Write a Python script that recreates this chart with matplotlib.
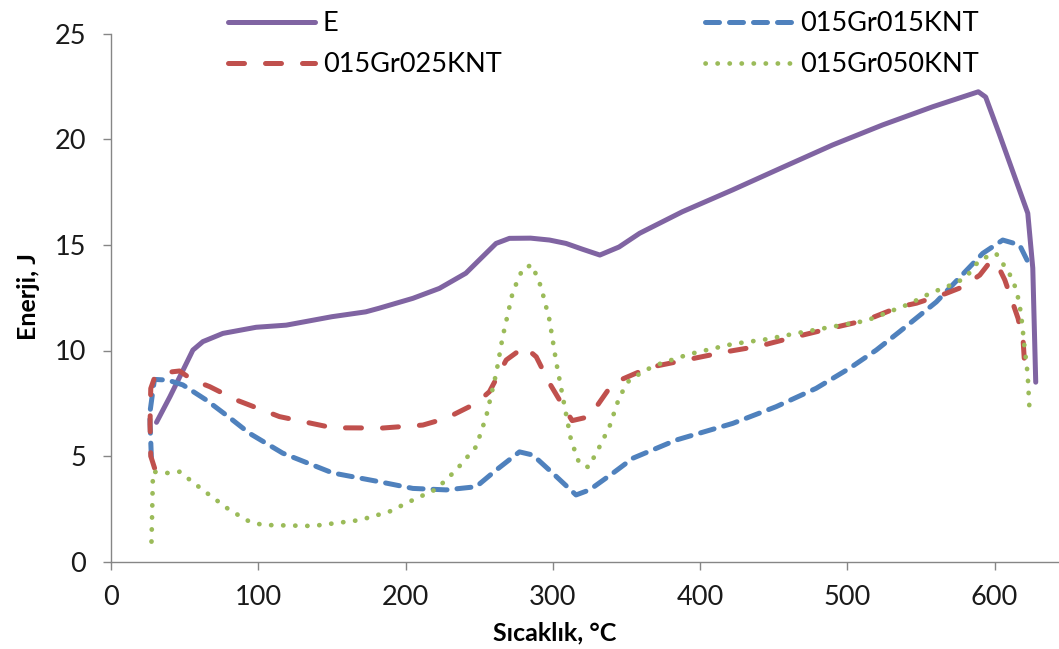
import matplotlib
matplotlib.use("Agg")
import matplotlib.pyplot as plt

plt.rcParams['font.family'] = ['Lato', 'DejaVu Sans']

# ---- data ----
e_x = [30.9, 40, 49, 55.6, 62.4, 76, 98.6, 119, 150, 173, 182, 205, 223, 241, 250, 261.5, 270.6, 285,
       297.8, 309, 320, 332, 345, 359, 388, 422, 456, 490, 524, 558, 589, 594, 603, 622.6, 626, 628]
e_y = [6.6, 7.81, 9.08, 10.02, 10.42, 10.81, 11.1, 11.2, 11.6, 11.83, 12.0, 12.47, 12.94, 13.66, 14.28,
       15.07, 15.31, 15.32, 15.23, 15.07, 14.8, 14.52, 14.9, 15.55, 16.57, 17.6, 18.67, 19.73, 20.68,
       21.54, 22.25, 22.0, 20.3, 16.5, 13.9, 8.5]

g15_x = [27.4, 26.3, 29.5, 38.6, 48.8, 64.6, 80, 94, 116.6, 150.6, 182, 205, 227.6, 248, 261.6, 277.4,
         286.5, 300, 315.8, 325, 340.8, 354.4, 383.8, 422.3, 451.7, 478.9, 501.6, 519.7, 535.5, 560.5,
         592, 605.6, 617, 624.8]
g15_y = [4.95, 7.0, 8.63, 8.6, 8.37, 7.66, 6.85, 6.08, 5.14, 4.2, 3.79, 3.47, 3.4, 3.55, 4.34, 5.2,
         5.05, 4.19, 3.16, 3.4, 4.19, 4.9, 5.76, 6.55, 7.34, 8.21, 9.16, 10.02, 10.89, 12.3,
         14.6, 15.23, 15.0, 13.9]

g25_x = [29.6, 27, 26.5, 27, 30, 36.3, 46.5, 55.6, 67, 85, 114.4, 150.6, 184.6, 211.8, 227.6, 248, 257,
         268.4, 280.8, 288.8, 297.8, 308, 313.2, 325, 340.8, 365.7, 388.3, 417.8, 440.5, 460.9, 485.7,
         512.9, 535.5, 547, 567, 578, 590, 596.5, 601, 607, 616, 619.5, 620.4]
g25_y = [4.43, 5.0, 6.5, 8.2, 8.8, 8.95, 9.03, 8.6, 8.29, 7.66, 6.87, 6.34, 6.33, 6.47, 6.79, 7.5, 8.05,
         9.55, 10.18, 9.7, 8.45, 7.26, 6.68, 6.87, 8.45, 9.2, 9.52, 9.94, 10.21, 10.58, 11.0,
         11.44, 12.07, 12.24, 12.7, 13.0, 13.57, 14.15, 14.2, 13.34, 11.52, 10.4, 9.4]

g50_x = [27.5, 28, 28.5, 38.5, 46.5, 62.3, 80.5, 94, 103, 137, 169, 189, 205, 220.8, 234.4, 248, 254.8,
         261.6, 266, 272.9, 279.7, 286, 292, 297.8, 302.3, 306.8, 312.4, 318, 324.3, 331.8, 338.5,
         345.3, 352, 363.5, 370.2, 392.8, 422.3, 444.9, 467.5, 490.2, 512.9, 528.8, 542, 556, 574,
         581, 590, 601, 610, 615, 618, 620.4, 622.5, 624]
g50_y = [0.95, 2.5, 4.26, 4.2, 4.26, 3.4, 2.45, 1.9, 1.74, 1.69, 1.97, 2.37, 2.92, 3.43, 4.34, 5.45, 6.87,
         8.92, 10.65, 12.78, 13.89, 14.05, 13.02, 11.44, 9.47, 7.81, 5.76, 4.66, 4.47, 5.45, 6.39,
         7.81, 8.6, 9.08, 9.31, 9.83, 10.31, 10.53, 10.84, 11.13, 11.41, 11.84, 12.2, 12.7, 13.2,
         13.5, 14.3, 14.6, 13.66, 12.86, 11.76, 10.16, 8.9, 6.9]

labels = ["E", "015Gr015KNT", "015Gr025KNT", "015Gr050KNT"]
x_ticks = [0, 100, 200, 300, 400, 500, 600]
y_ticks = [0, 5, 10, 15, 20, 25]

# ---- styling ----
C_E = '#8064A2'
C_15 = '#4F81BD'
C_25 = '#C0504D'
C_50 = '#9BBB59'
FS = 19.5

fig = plt.figure(figsize=(10.59, 6.49), dpi=100)
ax = fig.add_axes([111 / 1059, 1 - 561.7 / 649, (1059 - 111) / 1059, (561.7 - 33.7) / 649])

lw = 3.6
l_e, = ax.plot(e_x, e_y, color=C_E, lw=lw, solid_capstyle='round', solid_joinstyle='round')
l_15, = ax.plot(g15_x, g15_y, color=C_15, lw=lw, linestyle=(0, (2.8, 2.0)),
                dash_capstyle='round', dash_joinstyle='round')
l_25, = ax.plot(g25_x, g25_y, color=C_25, lw=lw, linestyle=(0, (3.2, 4.2)),
                dash_capstyle='round', dash_joinstyle='round')
l_50, = ax.plot(g50_x, g50_y, color=C_50, lw=3.4, linestyle=(0, (0.05, 2.5)),
                dash_capstyle='round', dash_joinstyle='round')

ax.set_xlim(0, (1059 - 111) / 1.4725)
ax.set_ylim(0, 25)
ax.set_xticks(x_ticks)
ax.set_yticks(y_ticks)

for s in ['top', 'right']:
    ax.spines[s].set_visible(False)
for s in ['left', 'bottom']:
    ax.spines[s].set_color('#868686')
    ax.spines[s].set_linewidth(1.0)

ax.tick_params(axis='both', direction='out', length=6, width=1.0, color='#868686',
               labelsize=FS, labelcolor='#1a1a1a')
ax.tick_params(axis='y', pad=12)
ax.tick_params(axis='x', pad=11)

ax.set_xlabel("Sıcaklık, °C", fontsize=18, fontweight='bold', va='center', ha='center')
ax.xaxis.set_label_coords((555 - 111) / 948, (561.7 - 633) / 528)
ax.set_ylabel("Enerji, J", fontsize=18, fontweight='bold', va='center', ha='center')
ax.yaxis.set_label_coords((28 - 111) / 948, (561.7 - 297) / 528)

# legends: two columns placed separately
common = dict(loc='upper left', frameon=False, fontsize=FS, handlelength=3.2,
              handletextpad=0.3, borderpad=0, borderaxespad=0, labelspacing=0.6)
leg1 = fig.legend([l_e, l_25], [labels[0], labels[2]],
                  bbox_to_anchor=(228 / 1059, 1 - 11 / 649), **common)
leg2 = fig.legend([l_15, l_50], [labels[1], labels[3]],
                  bbox_to_anchor=(705 / 1059, 1 - 11 / 649), **common)

fig.savefig("out.png", dpi=100)
